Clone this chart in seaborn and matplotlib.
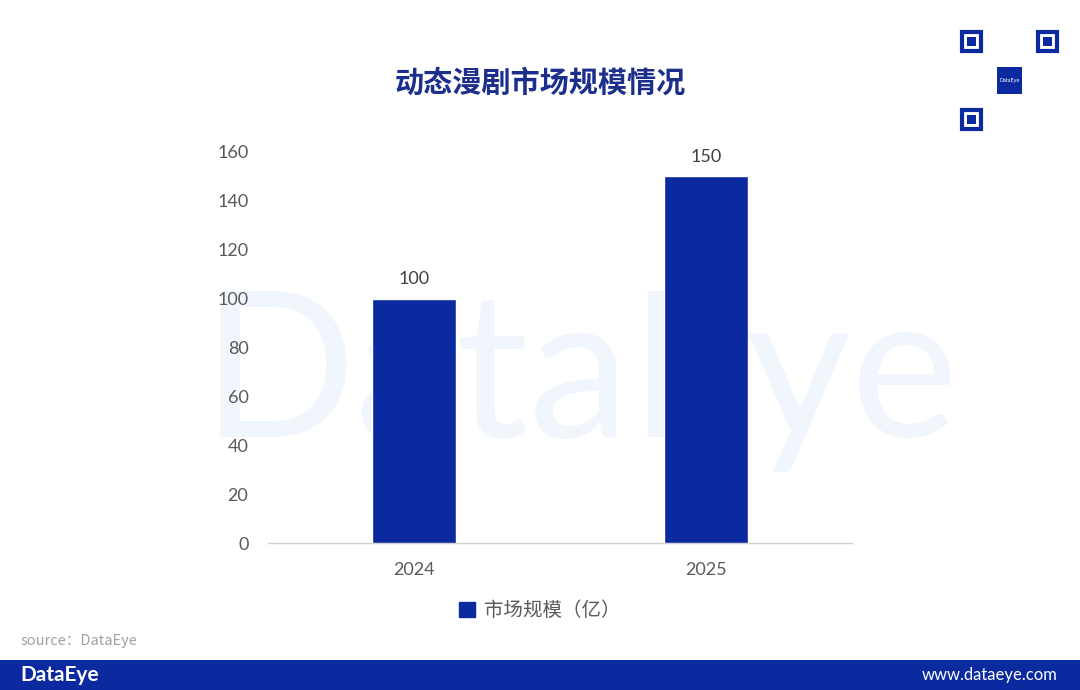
import pandas as pd
import matplotlib.pyplot as plt
import seaborn as sns
from matplotlib.patches import Patch, Rectangle

# 数据
years = ['2024', '2025']
market_size = [100, 150]
series_name = '市场规模（亿）'
title = '动态漫剧市场规模情况'
y_ticks = [0, 20, 40, 60, 80, 100, 120, 140, 160]

blue = '#0b2aa0'
gray = '#595959'

sns.set_theme(style='white')
plt.rcParams['font.family'] = ['Lato', 'Noto Sans CJK SC', 'DejaVu Sans']
plt.rcParams['axes.unicode_minus'] = False

df = pd.DataFrame({'年份': years, '规模': market_size})

fig = plt.figure(figsize=(10.8, 6.9), dpi=100)
fig.patch.set_facecolor('white')

# 水印（放在图表下层）
fig.text(0.537, 0.45, 'DataEye', fontsize=146, color='#f1f5fc',
         ha='center', va='center', family=['Lato'], zorder=-5)

ax = fig.add_axes([0.248, 0.213, 0.541, 0.567])
ax.patch.set_alpha(0)
sns.barplot(data=df, x='年份', y='规模', color=blue, saturation=1,
            width=0.29, ax=ax, zorder=3)

ax.set_xlim(-0.5, 1.5)
ax.set_ylim(0, 160)
ax.set_yticks(y_ticks)
ax.set_xlabel('')
ax.set_ylabel('')
ax.tick_params(axis='both', length=0, labelsize=13, labelcolor=gray)
ax.tick_params(axis='y', pad=14)
ax.tick_params(axis='x', pad=14)
for s in ['top', 'right', 'left']:
    ax.spines[s].set_visible(False)
ax.spines['bottom'].set_color('#d0d0d0')
ax.spines['bottom'].set_linewidth(1)

for c in ax.containers:
    ax.bar_label(c, labels=[str(v) for v in market_size], padding=8,
                 fontsize=13, color='#404040')

# 标题
fig.text(0.5, 0.88, title, fontsize=21, fontweight='bold', color='#1d2f8c',
         ha='center', va='center', family=['Noto Sans CJK SC'])

# 图例
fig.legend(handles=[Patch(facecolor=blue, edgecolor=blue)], labels=[series_name],
           loc='center', bbox_to_anchor=(0.5, 0.115), frameon=False,
           labelcolor=gray, handlelength=0.8, handleheight=0.8,
           handletextpad=0.5, prop={'family': ['Noto Sans CJK SC'], 'size': 14})

# 来源
fig.text(0.019, 0.071, 'source：DataEye', fontsize=10.5, style='italic',
         color='#a0a0a0', ha='left', va='center',
         family=['Noto Sans CJK SC', 'DejaVu Sans'])

# 底部横幅
fig.add_artist(Rectangle((0, 0), 1, 30 / 690, transform=fig.transFigure,
                         facecolor=blue, edgecolor='none'))
fig.text(0.019, 30 / 690 / 2, 'DataEye', fontsize=15, fontweight='bold',
         color='white', ha='left', va='center', family=['Lato'])
fig.text(0.979, 30 / 690 / 2, 'www.dataeye.com', fontsize=12,
         color='white', ha='right', va='center', family=['Lato'])

# 二维码（简化）
def box(x, y, w, h, **kw):
    fig.add_artist(Rectangle((x / 1080, 1 - (y + h) / 690), w / 1080, h / 690,
                             transform=fig.transFigure, **kw))
for fx, fy in [(962, 32), (1038, 32), (962, 110)]:
    box(fx, fy, 19, 19, facecolor='none', edgecolor=blue, linewidth=3)
    box(fx + 5, fy + 5, 9, 9, facecolor=blue, edgecolor='none')
box(997, 67, 25, 27, facecolor=blue, edgecolor='none')
fig.text(1009.5 / 1080, 1 - 80.5 / 690, 'DataEye', fontsize=4, color='white',
         ha='center', va='center')

fig.savefig('out.png', dpi=100)
